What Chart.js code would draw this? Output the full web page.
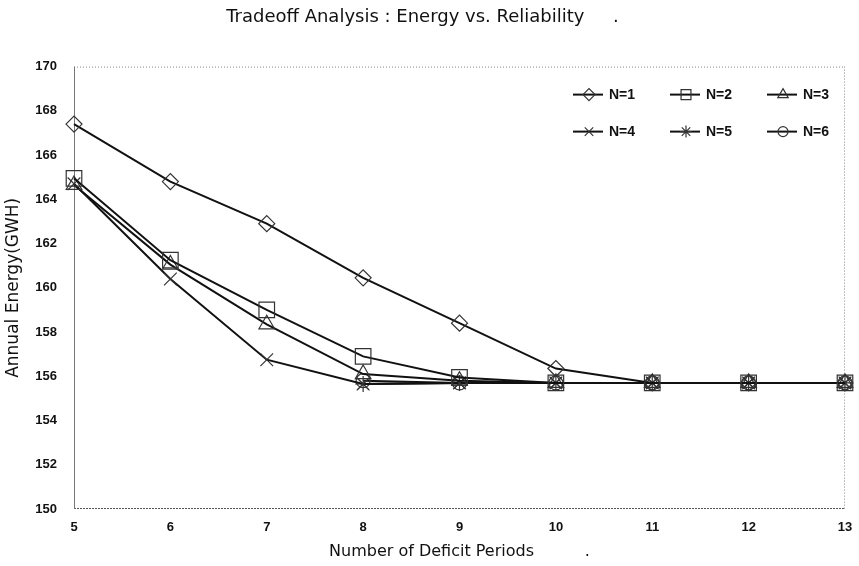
<!DOCTYPE html>
<html>
<head>
<meta charset="utf-8">
<script src="https://cdn.jsdelivr.net/npm/chart.js@4"></script>
<style>
  html, body { margin: 0; padding: 0; background: #fff; }
  #wrap { width: 859px; height: 566px; }
</style>
</head>
<body>
<div id="wrap"><canvas id="c" width="859" height="566"></canvas></div>
<script>
const deficitPeriods = [5, 6, 7, 8, 9, 10, 11, 12, 13];
const n1 = [167.4, 164.8, 162.9, 160.45, 158.4, 156.35, 155.7, 155.7, 155.7];
const n2 = [164.95, 161.25, 159.0, 156.9, 155.95, 155.7, 155.7, 155.7, 155.7];
const n3 = [164.65, 161.05, 158.35, 156.1, 155.8, 155.7, 155.7, 155.7, 155.7];
const n4 = [164.7, 160.4, 156.75, 155.65, 155.7, 155.7, 155.7, 155.7, 155.7];
const n5 = [null, null, null, 155.65, 155.7, 155.7, 155.7, 155.7, 155.7];
const n6 = [null, null, null, 155.8, 155.7, 155.7, 155.7, 155.7, 155.7];
const seriesLabels = ['N=1', 'N=2', 'N=3', 'N=4', 'N=5', 'N=6'];
const seriesValues = [n1, n2, n3, n4, n5, n6];
const markerStyles = ['rectRot', 'rect', 'triangle', 'crossRot', 'star', 'circle'];
const markerRadii = [8, 11, 9, 9, 8, 7];
const legendRadii = [6, 7, 6, 6, 6, 5];

const FONT = '"DejaVu Sans", "Liberation Sans", sans-serif';
const TICKFONT = '"Liberation Sans", Arial, sans-serif';

const datasets = seriesValues.map((vals, i) => ({
  label: seriesLabels[i],
  data: deficitPeriods.map((x, j) => ({ x: x, y: vals[j] })),
  borderColor: '#111',
  borderWidth: 2,
  pointStyle: markerStyles[i],
  pointRadius: markerRadii[i],
  pointHoverRadius: markerRadii[i],
  pointBorderColor: '#333',
  pointBorderWidth: 1.2,
  pointBackgroundColor: 'rgba(0,0,0,0)',
  tension: 0,
  fill: false,
  clip: false,
  spanGaps: false
}));

const frame = {
  id: 'frame',
  beforeDatasetsDraw(chart) {
    const { ctx, chartArea: a } = chart;
    ctx.save();
    ctx.lineWidth = 1;
    ctx.strokeStyle = '#888';
    ctx.setLineDash([1, 2]);
    ctx.beginPath();
    ctx.moveTo(a.left, a.top + 0.5); ctx.lineTo(a.right, a.top + 0.5);
    ctx.moveTo(a.right - 0.5, a.top); ctx.lineTo(a.right - 0.5, a.bottom);
    ctx.stroke();
    ctx.strokeStyle = '#555';
    ctx.setLineDash([2, 1]);
    ctx.beginPath();
    ctx.moveTo(a.left, a.bottom - 0.5); ctx.lineTo(a.right, a.bottom - 0.5);
    ctx.stroke();
    ctx.setLineDash([]);
    ctx.strokeStyle = '#777';
    ctx.beginPath();
    ctx.moveTo(a.left + 0.5, a.top); ctx.lineTo(a.left + 0.5, a.bottom);
    ctx.stroke();
    ctx.restore();
  }
};

const gridLegend = {
  id: 'gridLegend',
  afterDraw(chart) {
    const { ctx, chartArea: a } = chart;
    const helpers = Chart.helpers;
    ctx.save();
    chart.data.datasets.forEach((ds, i) => {
      const col = i % 3, row = Math.floor(i / 3);
      const x0 = a.right - 272 + col * 97;
      const y = a.top + 28 + row * 37;
      ctx.strokeStyle = '#111';
      ctx.lineWidth = 2;
      ctx.beginPath();
      ctx.moveTo(x0, y); ctx.lineTo(x0 + 30, y);
      ctx.stroke();
      ctx.lineWidth = 1.2;
      ctx.strokeStyle = '#333';
      ctx.fillStyle = 'rgba(0,0,0,0)';
      if (helpers && helpers.drawPoint) {
        helpers.drawPoint(ctx, { pointStyle: ds.pointStyle, radius: legendRadii[i], rotation: 0, borderWidth: 1.2 }, x0 + 16, y);
      }
      ctx.fillStyle = '#111';
      ctx.font = 'bold 14px ' + TICKFONT;
      ctx.textBaseline = 'middle';
      ctx.textAlign = 'left';
      ctx.fillText(ds.label, x0 + 36, y + 1);
    });
    ctx.restore();
  }
};

new Chart(document.getElementById('c'), {
  type: 'line',
  data: { datasets: datasets },
  options: {
    responsive: false,
    animation: false,
    layout: { padding: { left: 0, right: 14, top: 0, bottom: 0 } },
    plugins: {
      legend: { display: false },
      tooltip: { enabled: false },
      title: {
        display: true,
        text: 'Tradeoff Analysis : Energy vs. Reliability     .',
        color: '#111',
        font: { family: FONT, size: 18, weight: 'normal' },
        padding: { top: 7, bottom: 38 }
      }
    },
    scales: {
      x: {
        type: 'linear',
        min: 5, max: 13,
        grid: { display: false, drawTicks: false },
        border: { display: false },
        ticks: {
          stepSize: 1,
          padding: 11,
          color: '#111',
          font: { family: TICKFONT, size: 13, weight: 'bold' }
        },
        title: {
          display: true,
          text: 'Number of Deficit Periods          .',
          color: '#111',
          font: { family: FONT, size: 16, weight: 'normal' },
          padding: { top: 4, bottom: 5 }
        },
        afterFit(s) { s.height = 57; s.paddingLeft = 0; s.paddingRight = 0; }
      },
      y: {
        min: 150, max: 170,
        grid: { display: false, drawTicks: false },
        border: { display: false },
        ticks: {
          stepSize: 2,
          padding: 17,
          color: '#111',
          font: { family: TICKFONT, size: 13, weight: 'bold' }
        },
        title: {
          display: true,
          text: 'Annual Energy(GWH)',
          color: '#111',
          font: { family: FONT, size: 17, weight: 'normal' },
          padding: { top: 3, bottom: 4 }
        },
        afterFit(s) { s.width = 74; }
      }
    }
  },
  plugins: [frame, gridLegend]
});
</script>
</body>
</html>
